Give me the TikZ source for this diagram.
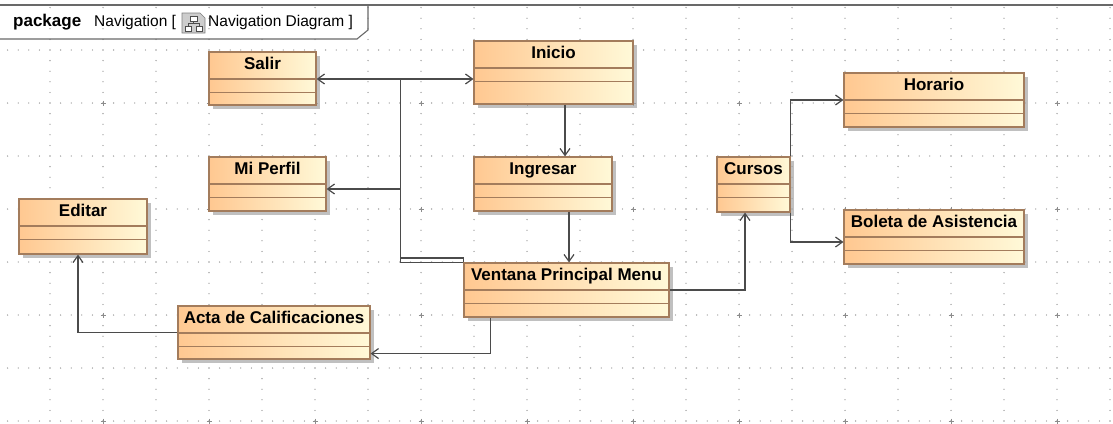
\documentclass[tikz,border=0pt]{standalone}
\usepackage{fontspec}
\setmainfont{Liberation Sans}
\usetikzlibrary{arrows.meta,shadows}

\definecolor{clsL}{RGB}{255,200,145}
\definecolor{clsR}{RGB}{255,249,216}
\definecolor{brd}{RGB}{163,124,92}
\definecolor{wire}{RGB}{75,75,75}
\definecolor{gridc}{RGB}{140,140,140}
\definecolor{frm}{RGB}{105,105,105}
\definecolor{iconbg}{RGB}{205,205,205}

\newcommand{\ttlfont}{\fontsize{17}{20}\selectfont\bfseries}
\newcommand{\hdrfont}{\fontsize{15.5}{18}\selectfont}

\tikzset{
  classbox/.style={draw=brd, line width=1.1pt, left color=clsL, right color=clsR,
    inner sep=0pt,
    drop shadow={shadow xshift=4pt, shadow yshift=-4pt, fill=black!35, opacity=0.7},
    path picture={
      \draw[brd, line width=1.1pt]
        ([yshift=-27pt]path picture bounding box.north west) -- ([yshift=-27pt]path picture bounding box.north east)
        ([yshift=-40.5pt]path picture bounding box.north west) -- ([yshift=-40.5pt]path picture bounding box.north east);
    }},
  classname/.style={anchor=base, font=\ttlfont, inner sep=0pt},
  conn/.style={draw=wire, line width=1.2pt, -{Straight Barb[length=7pt,width=10pt]}},
  hdr/.style={anchor=base west, inner sep=0pt, font=\hdrfont}
}

\begin{document}
\begin{tikzpicture}[x=1pt, y=-1pt]
\useasboundingbox (0,0) rectangle (1113,423);
\fill[white] (0,0) rectangle (1113,423);

% dotted grid: rows and columns every 53, dots every 10.6
\foreach \r in {0,...,7} {
  \foreach \k in {-4,...,100} {
    \fill[gridc] ({50+10.6*\k},{50+53*\r}) circle (0.65);
  }
}
\foreach \c in {0,...,20} {
  \foreach \k in {-4,...,35} {
    \fill[gridc] ({50+53*\c},{50+10.6*\k}) circle (0.65);
  }
}
% crosses at the major grid points
\foreach \i in {0,...,9} {
  \foreach \j in {0,...,3} {
    \draw[gridc, line width=0.8pt] ({103+106*\i-2.5},{103+106*\j}) -- ({103+106*\i+2.5},{103+106*\j})
      ({103+106*\i},{103+106*\j-2.5}) -- ({103+106*\i},{103+106*\j+2.5});
  }
}

% package frame and its name tab
\draw[frm, line width=1.6pt] (0,5) -- (1113,5);
\draw[frm, line width=1.1pt] (0,39) -- (357,39) -- (368,30) -- (368,5);
\node[hdr, font=\ttlfont] (pkg) at (13,26.5) {package};
\node[hdr] (pkgname) at (94,26.5) {Navigation [};
% diagram icon
\draw[gray, fill=iconbg, line width=0.7pt] (182,13) -- (200,13) -- (205,18) -- (205,33) -- (182,33) -- cycle;
\draw[black!70, line width=0.6pt, fill=white] (190,16) rectangle (197,21) (185,26) rectangle (191,31) (196,26) rectangle (202,31);
\draw[black!70, line width=0.6pt] (193.5,21) -- (193.5,23.5) (188,26) -- (188,23.5) -- (199,23.5) -- (199,26);
\node[hdr] (diag) at (208,26.5) {Navigation Diagram ]};

% classes
\node[classbox, minimum width=107pt, minimum height=53pt] (salir) at (262.5,78.5) {};
\node[classname] (salir-t) at ([yshift=-18.5pt]salir.north) {Salir};

\node[classbox, minimum width=159pt, minimum height=63pt] (inicio) at (553.5,72.5) {};
\node[classname] (inicio-t) at ([yshift=-18.5pt]inicio.north) {Inicio};

\node[classbox, minimum width=117pt, minimum height=54pt] (miperfil) at (267.5,184) {};
\node[classname] (miperfil-t) at ([yshift=-18.5pt]miperfil.north) {Mi Perfil};

\node[classbox, minimum width=138pt, minimum height=54pt] (ingresar) at (543,184) {};
\node[classname] (ingresar-t) at ([yshift=-18.5pt]ingresar.north) {Ingresar};

\node[classbox, minimum width=205pt, minimum height=54pt] (ventana) at (566.5,290) {};
\node[classname] (ventana-t) at ([yshift=-18.5pt]ventana.north) {Ventana Principal Menu};

\node[classbox, minimum width=128pt, minimum height=55pt] (editar) at (83,226.5) {};
\node[classname] (editar-t) at ([yshift=-18.5pt]editar.north) {Editar};

\node[classbox, minimum width=192pt, minimum height=53pt] (acta) at (274,332.5) {};
\node[classname] (acta-t) at ([yshift=-18.5pt]acta.north) {Acta de Calificaciones};

\node[classbox, minimum width=73pt, minimum height=55pt] (cursos) at (753.5,184.5) {};
\node[classname] (cursos-t) at ([yshift=-18.5pt]cursos.north) {Cursos};

\node[classbox, minimum width=180pt, minimum height=54pt] (horario) at (934,100) {};
\node[classname] (horario-t) at ([yshift=-18.5pt]horario.north) {Horario};

\node[classbox, minimum width=180pt, minimum height=54pt] (boleta) at (934,237) {};
\node[classname] (boleta-t) at ([yshift=-18.5pt]boleta.north) {Boleta de Asistencia};

% navigation links
\coordinate (hub) at (400.5,79);
\coordinate (hubp) at (400.5,189);
\draw[conn] ([xshift=11.5pt]inicio.south) -- ([xshift=11.5pt]inicio.south |- ingresar.north);
\draw[conn] ([xshift=26pt]ingresar.south) -- ([xshift=26pt]ingresar.south |- ventana.north);
\draw[conn] (ventana.north west) -| (hub) -- (hub -| salir.east);
\draw[conn] (ventana.north west) -- ++(0,-4.5) -| (hub) -- (hub -| inicio.west);
\draw[conn] (ventana.north west) -| (hubp) -- (hubp -| miperfil.east);
\draw[conn] ([xshift=27pt]ventana.south west) |- ([yshift=6pt]acta.south east);
\draw[conn] (acta.west) -| ([xshift=-5pt]editar.south);
\draw[conn] (ventana.east) -| ([xshift=-8.5pt]cursos.south);
\draw[conn] (cursos.north east) |- (horario.west);
\draw[conn] (cursos.south east) |- ([yshift=-5pt]boleta.west);
\end{tikzpicture}
\end{document}
